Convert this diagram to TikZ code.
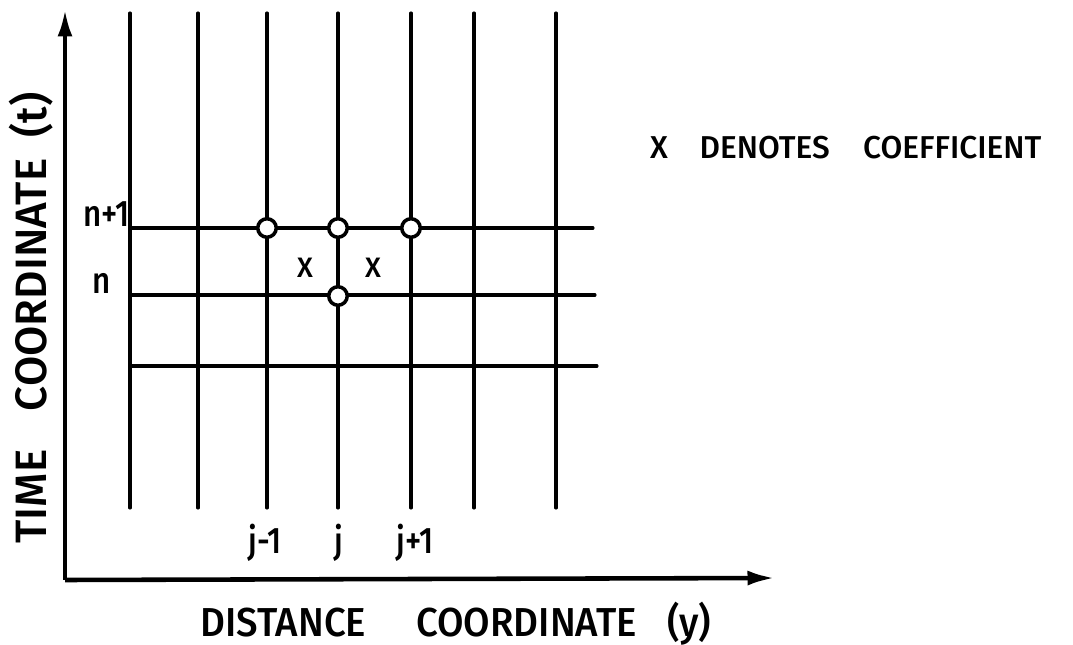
\documentclass[tikz,border=0pt]{standalone}
\usepackage{fontspec}
\setmainfont{Fira Sans}[UprightFont=* Medium]
\usetikzlibrary{arrows.meta,positioning}

\newcommand{\squeeze}[2][0.85]{\scalebox{#1}[1]{#2}}

\tikzset{
  gridline/.style={line width=1.8pt,line cap=round},
  axis/.style={line width=2.6pt,-{Latex[length=5.5mm,width=3mm]}},
  mesh/.style={circle,draw,fill=white,line width=2pt,inner sep=0pt,minimum size=3.7mm},
  idx/.style={font=\fontsize{21}{21}\selectfont},
  coef/.style={font=\fontsize{16}{16}\selectfont},
  note/.style={font=\fontsize{18}{18}\selectfont},
  title/.style={font=\fontsize{23}{23}\selectfont}
}

\begin{document}
\begin{tikzpicture}[x=0.02cm,y=-0.02cm]
  \useasboundingbox (0,0) rectangle (1073,645);
  % axes
  \coordinate (o) at (65,580);
  \coordinate (tend) at (65,9);
  \coordinate (yend) at (775,578);
  \draw[axis] (o) -- (tend);
  \draw[axis] (o) -- (yend);
  % grid
  \foreach \x in {130,198,267,338,411,474,556}
    \draw[gridline] (\x,13) -- (\x,508);
  \foreach \y/\e in {228/593,295/595,366/597}
    \draw[gridline] (130,\y) -- (\e,\y);
  % points
  \foreach \p/\t in {(267,228)/jm,(338,228)/jc,(411,228)/jp,(338,296)/jn}
    \node[mesh] (\t) at \p {};
  \node[coef] (xa) at (305,268) {X};
  \node[coef] (xb) at (373,268) {X};
  % labels
  \node[idx,anchor=east] (np) at (136,214) {\squeeze{n+1}};
  \node[idx] (nn) at (102,283) {\squeeze{n}};
  \node[idx] (lm) at (265,543) {\squeeze{j-1}};
  \node[idx] (lc) at (339,543) {\squeeze{j}};
  \node[idx] (lp) at (415,543) {\squeeze{j+1}};
  \node[title] (ylab) at (456,624) {\squeeze[0.95]{DISTANCE\hspace{30pt}COORDINATE\hspace{18pt}(y)}};
  \node[title,rotate=90,font=\fontsize{25}{25}\selectfont] (tlab) at (31,318) {TIME\hspace{22pt}COORDINATE\hspace{12pt}(t)};
  \node[note,anchor=west] (legend) at (644,148) {X\hspace{18pt}DENOTES\hspace{19pt}COEFFICIENT};
\end{tikzpicture}
\end{document}
